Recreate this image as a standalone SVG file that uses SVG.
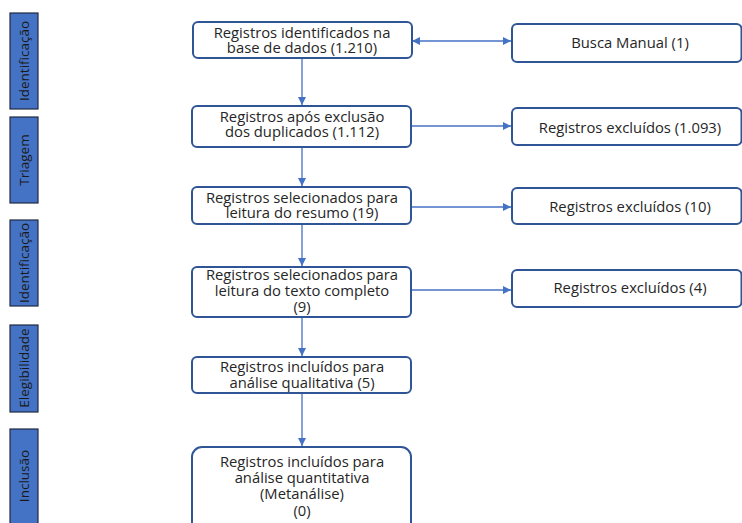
<svg xmlns="http://www.w3.org/2000/svg" width="742" height="523" viewBox="0 0 742 523">
<defs>
<style>
.bar{fill:#4472C4;stroke:#1F2A44;stroke-width:1.2}
.bt{font-family:"Open Sans","Liberation Sans",sans-serif;font-size:13.5px;fill:#1a1a1a;text-anchor:middle;dominant-baseline:central}
.box{fill:#fff;stroke:#2F5597;stroke-width:2}
.t{font-family:"Open Sans","Liberation Sans",sans-serif;font-size:14.8px;fill:#262626;text-anchor:middle}
.c{stroke:#4472C4;stroke-width:1.3;fill:none}
</style>
<marker id="ah" viewBox="0 0 10 10" refX="10" refY="5" markerWidth="8" markerHeight="8" markerUnits="userSpaceOnUse" orient="auto-start-reverse">
<path d="M0,0 L10,5 L0,10 z" fill="#4472C4"/>
</marker>
</defs>
<g id="stage-labels">
<g id="s1"><rect class="bar" x="10" y="13" width="28" height="96"/><text class="bt" transform="translate(24,61) rotate(-90)">Identificação</text></g>
<g id="s2"><rect class="bar" x="10" y="117" width="28" height="86"/><text class="bt" transform="translate(24,160) rotate(-90)">Triagem</text></g>
<g id="s3"><rect class="bar" x="10" y="220" width="28" height="86"/><text class="bt" transform="translate(24,263) rotate(-90)">Identificação</text></g>
<g id="s4"><rect class="bar" x="10" y="325" width="28" height="87"/><text class="bt" transform="translate(24,368) rotate(-90)">Elegibilidade</text></g>
<g id="s5"><rect class="bar" x="10" y="429" width="28" height="100"/><text class="bt" transform="translate(24,476) rotate(-90)">Inclusão</text></g>
</g>
<g id="connectors">
<line class="c" x1="302" y1="58" x2="302" y2="105" marker-end="url(#ah)"/>
<line class="c" x1="302" y1="147" x2="302" y2="186" marker-end="url(#ah)"/>
<line class="c" x1="302" y1="224" x2="302" y2="266" marker-end="url(#ah)"/>
<line class="c" x1="302" y1="317" x2="302" y2="356" marker-end="url(#ah)"/>
<line class="c" x1="302" y1="393" x2="302" y2="446" marker-end="url(#ah)"/>
<line class="c" x1="412" y1="41" x2="511" y2="41" marker-start="url(#ah)" marker-end="url(#ah)"/>
<line class="c" x1="411" y1="126" x2="511" y2="126" marker-end="url(#ah)"/>
<line class="c" x1="411" y1="207" x2="511" y2="207" marker-end="url(#ah)"/>
<line class="c" x1="411" y1="290" x2="511" y2="290" marker-end="url(#ah)"/>
</g>
<g id="n1"><rect class="box" x="193" y="22" width="219" height="36" rx="5"/><text class="t" x="302" y="37.5">Registros identificados na</text><text class="t" x="302" y="53">base de dados (1.210)</text></g>
<g id="n2"><rect class="box" x="192" y="106" width="219" height="41" rx="5"/><text class="t" x="302" y="121.7">Registros após exclusão</text><text class="t" x="302" y="137">dos duplicados (1.112)</text></g>
<g id="n3"><rect class="box" x="192" y="187" width="219" height="37" rx="5"/><text class="t" x="302" y="202.7">Registros selecionados para</text><text class="t" x="302" y="218.3">leitura do resumo (19)</text></g>
<g id="n4"><rect class="box" x="192" y="267" width="219" height="50" rx="5"/><text class="t" x="302" y="280">Registros selecionados para</text><text class="t" x="302" y="295.5">leitura do texto completo</text><text class="t" x="302" y="311.5">(9)</text></g>
<g id="n5"><rect class="box" x="192" y="357" width="219" height="36" rx="5"/><text class="t" x="302" y="371.7">Registros incluídos para</text><text class="t" x="302" y="387.7">análise qualitativa (5)</text></g>
<g id="n6"><rect class="box" x="192" y="447" width="219" height="90" rx="10"/><text class="t" x="302" y="466.5">Registros incluídos para</text><text class="t" x="302" y="482.7">análise quantitativa</text><text class="t" x="302" y="499.3">(Metanálise)</text><text class="t" x="302" y="516">(0)</text></g>
<g id="r1"><rect class="box" x="512" y="24" width="229.5" height="38" rx="5"/><text class="t" x="630" y="48.3">Busca Manual (1)</text></g>
<g id="r2"><rect class="box" x="512" y="108" width="229.5" height="37" rx="5"/><text class="t" x="630" y="133.3">Registros excluídos (1.093)</text></g>
<g id="r3"><rect class="box" x="512" y="188" width="229.5" height="36" rx="5"/><text class="t" x="630" y="211.7">Registros excluídos (10)</text></g>
<g id="r4"><rect class="box" x="512" y="270" width="229.5" height="37" rx="5"/><text class="t" x="630" y="293.3">Registros excluídos (4)</text></g>
</svg>
